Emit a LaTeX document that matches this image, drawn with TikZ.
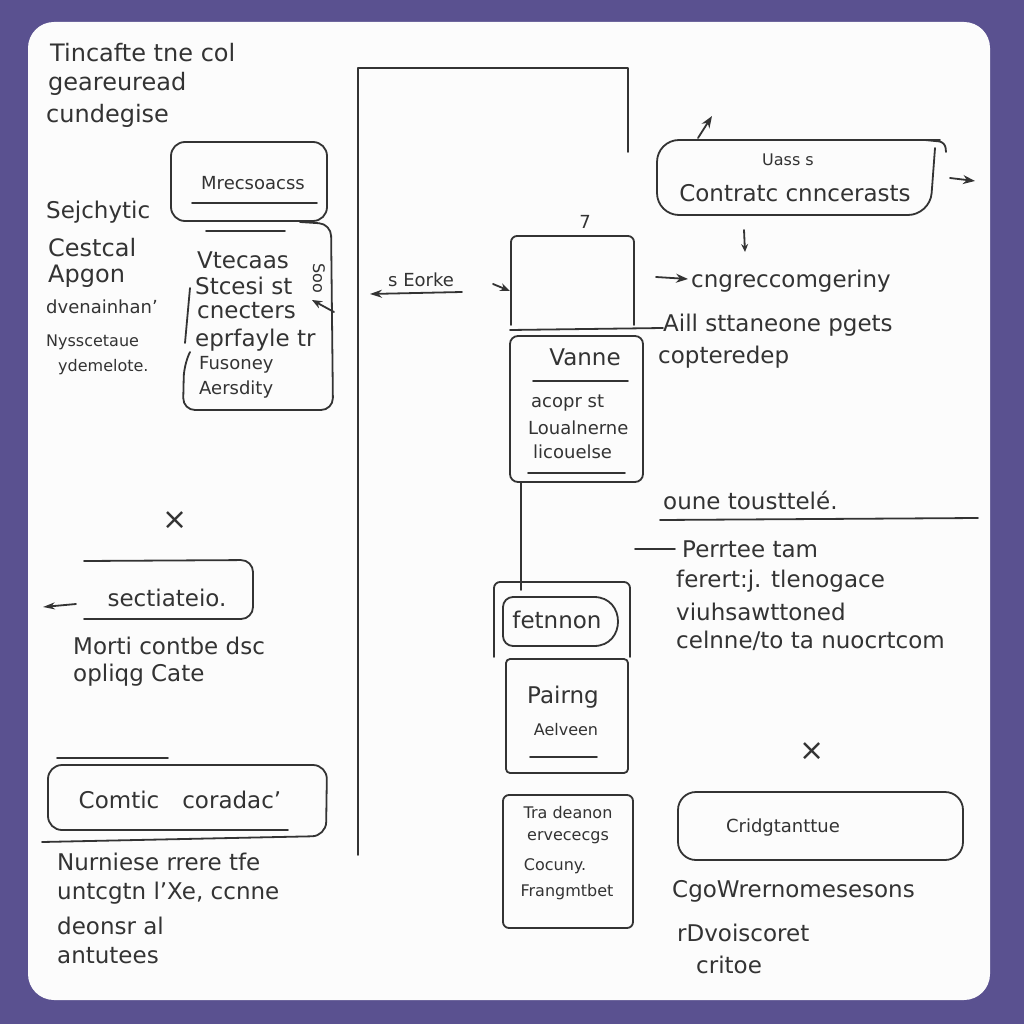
\documentclass[tikz,border=0pt]{standalone}
\usepackage{fontspec}
\setmainfont{DejaVu Sans}
\usetikzlibrary{arrows.meta}
\definecolor{bgc}{HTML}{5A5190}
\definecolor{cardc}{HTML}{FCFCFC}
\definecolor{inkc}{HTML}{333333}
\tikzset{
  ink/.style={draw=inkc, line width=1.8pt, line cap=round, line join=round},
  inkarrow/.style={ink, -{Stealth[length=12pt,width=9pt]}},
  tA/.style={font=\fontsize{24}{28}\selectfont, text=inkc, inner sep=0pt, anchor=west},
  tB/.style={font=\fontsize{23}{27}\selectfont, text=inkc, inner sep=0pt, anchor=west},
  tC/.style={font=\fontsize{18}{21}\selectfont, text=inkc, inner sep=0pt, anchor=west},
  tD/.style={font=\fontsize{16}{19}\selectfont, text=inkc, inner sep=0pt, anchor=west},
  cross/.style={font=\fontsize{30}{32}\selectfont, text=inkc, inner sep=0pt},
}
\begin{document}
\begin{tikzpicture}[x=1pt,y=-1pt]
\useasboundingbox (0,0) rectangle (1024,1024);
\fill[bgc] (0,0) rectangle (1024,1024);
\fill[cardc, rounded corners=26pt] (28,22) rectangle (990,1000);

% ---------- top-left text ----------
\node[tA] (t1) at (50,53) {Tincafte tne col};
\node[tA] (t2) at (48,84) {geareuread};
\node[tA] (t3) at (46,116) {cundegise};

% ---------- box Mrecsoacss ----------
\draw[ink, rounded corners=14pt] (171,142) rectangle (327,221);
\draw[ink] (192,203) -- (317,203);
\node[tC, anchor=center] (b1) at (253,183) {Mrecsoacss};

% ---------- left labels ----------
\node[tB] (l1) at (46,212) {Sejchytic};
\node[tA] (l2) at (48,248) {Cestcal};
\node[tA] (l3) at (48,276) {Apgon};
\node[tC] (l4) at (46,307) {dvenainhan'};
\node[tD] (l5) at (46,342) {Nysscetaue};
\node[tD] (l6) at (58,367) {ydemelote.};

% ---------- box Vtecaas ----------
\draw[ink] (206,231) -- (285,231);
\draw[ink, rounded corners=12pt] (300,222) -- (331,224) -- (333,410) -- (183,410) -- (184,365) -- (190,352);
\draw[ink] (190,288) -- (185,343);
\node[tB] (v1) at (197,260) {Vtecaas};
\node[tB] (v2) at (195,286) {Stcesi st};
\node[tB] (v3) at (197,311) {cnecters};
\node[tB] (v4) at (195,340) {eprfayle tr};
\node[tC] (v5) at (199,365) {Fusoney};
\node[tC] (v6) at (199,390) {Aersdity};
\node[tD, rotate=-90, anchor=center] (vs) at (319,278) {Soo};
\coordinate (vsa) at (334,312);
\draw[ink, -{Stealth[length=10pt,width=8pt]}] (vsa) -- (312,300);

% ---------- frame lines ----------
\coordinate (f1) at (358,855);
\coordinate (f2) at (358,68);
\coordinate (f3) at (628,68);
\coordinate (f4) at (628,152);
\draw[ink] (f1) -- (f2) -- (f3) -- (f4);

% ---------- s Eorke ----------
\node[tC] (se) at (388,280) {s Eorke};
\coordinate (se1) at (462,292);
\coordinate (se2) at (370,294);
\draw[ink, -{Stealth[length=12pt,width=8pt]}] (se1) -- (se2);

% ---------- box3 ----------
\draw[ink, rounded corners=6pt] (511,325) -- (511,236) -- (634,236) -- (634,325);
\node[tC, anchor=center] (seven) at (585,222) {7};
\coordinate (b3a) at (493,284);
\draw[ink, -{Stealth[length=10pt,width=8pt]}] (b3a) -- (510,291);

% ---------- box Vanne ----------
\draw[ink, rounded corners=8pt] (510,336) rectangle (643,482);
\draw[ink] (510,330) -- (663,328);
\draw[ink] (533,381) -- (628,381);
\draw[ink] (528,473) -- (625,473);
\node[tB, anchor=center] (va) at (585,357) {Vanne};
\node[tC] (va1) at (531,403) {acopr st};
\node[tC] (va2) at (528,428) {Loualnerne};
\node[tC] (va3) at (533,452) {licouelse};
\coordinate (vl1) at (521,482);
\coordinate (vl2) at (521,590);
\draw[ink] (vl1) -- (vl2);

% ---------- top-right box ----------
\draw[ink, rounded corners=22pt] (935,148) -- (930,215) -- (657,215) -- (657,140) -- (940,140);
\draw[ink, rounded corners=6pt] (925,140) -- (945,142) -- (946,152);
\node[tD, anchor=center] (u1) at (788,160) {Uass s};
\node[tB, anchor=center] (u2) at (795,193) {Contratc cnncerasts};
\coordinate (ua1) at (698,138);
\coordinate (ua2) at (712,116);
\draw[inkarrow] (ua1) -- (ua2);
\coordinate (ub1) at (950,178);
\coordinate (ub2) at (975,181);
\draw[inkarrow] (ub1) -- (ub2);
\coordinate (uc1) at (744,230);
\coordinate (uc2) at (745,252);
\draw[ink, -{Stealth[length=8pt,width=7pt]}] (uc1) -- (uc2);

% ---------- right texts ----------
\coordinate (ca1) at (656,277);
\draw[inkarrow] (ca1) -- (688,279);
\node[tB] (c1) at (691,281) {cngreccomgeriny};
\node[tB] (c2) at (663,325) {Aill sttaneone pgets};
\node[tB] (c3) at (658,357) {copteredep};
\node[tB] (c4) at (663,500) {oune tousttelé.};
\coordinate (c4a) at (660,520);
\coordinate (c4b) at (978,518);
\draw[ink] (c4a) -- (c4b);
\coordinate (c5a) at (635,549);
\coordinate (c5b) at (675,549);
\draw[ink] (c5a) -- (c5b);
\node[tB] (c5) at (682,549) {Perrtee tam};
\node[tB] (c6) at (676,581) {ferert:j. tlenogace};
\node[tB] (c7) at (676,612) {viuhsawttoned};
\node[tB] (c8) at (676,641) {celnne/to ta nuocrtcom};

% ---------- fetnnon ----------
\draw[ink, rounded corners=6pt] (494,657) -- (494,582) -- (630,582) -- (630,657);
\draw[ink, rounded corners=10pt] (594,646) -- (503,646) -- (503,597) -- (594,597);
\draw[ink] (594,597) .. controls (626,597) and (626,646) .. (594,646);
\node[tB, anchor=center] (fe) at (557,620) {fetnnon};

% ---------- Pairng ----------
\draw[ink, rounded corners=4pt] (506,659) rectangle (628,773);
\node[tB, anchor=center] (pa) at (563,697) {Pairng};
\node[tD, anchor=center] (pa2) at (566,730) {Aelveen};
\draw[ink] (530,757) -- (597,757);

% ---------- Tradeanon ----------
\draw[ink, rounded corners=6pt] (503,795) rectangle (633,928);
\node[tD, anchor=center] (tr1) at (568,813) {Tra deanon};
\node[tD, anchor=center] (tr2) at (568,838) {ervececgs};
\node[tD, anchor=center] (tr3) at (555,866) {Cocuny.};
\node[tD, anchor=center] (tr4) at (567,892) {Frangmtbet};

% ---------- bottom right ----------
\node[cross] (x2) at (812,752) {×};
\draw[ink, rounded corners=18pt] (678,792) rectangle (963,860);
\node[tC, anchor=center] (cr) at (783,828) {Cridgtanttue};
\node[tB] (cg1) at (672,891) {CgoWrernomesesons};
\node[tB] (cg2) at (677,933) {rDvoiscoret};
\node[tB] (cg3) at (696,965) {critoe};

% ---------- bottom left ----------
\node[cross] (x1) at (175,521) {×};
\draw[ink, rounded corners=12pt] (84,561) -- (253,560) -- (253,619) -- (84,619);
\node[tB, anchor=center] (sc) at (167,598) {sectiateio.};
\coordinate (sa1) at (76,604);
\coordinate (sa2) at (43,607);
\draw[ink, -{Stealth[length=12pt,width=7pt]}] (sa1) -- (sa2);
\node[tB] (m1) at (73,646) {Morti contbe dsc};
\node[tB] (m2) at (73,675) {opliqg Cate};

\draw[ink] (57,758) -- (168,758);
\draw[ink, rounded corners=14pt] (288,830) -- (48,830) -- (48,765) -- (327,765) -- (326,836) -- (42,842);
\node[tB, anchor=center] (co) at (180,800) {Comtic\quad coradac'};
\node[tB] (n1) at (57,862) {Nurniese rrere tfe};
\node[tB] (n2) at (57,893) {untcgtn l'Xe, ccnne};
\node[tB] (n3) at (57,926) {deonsr al};
\node[tB] (n4) at (57,956) {antutees};
\end{tikzpicture}
\end{document}
